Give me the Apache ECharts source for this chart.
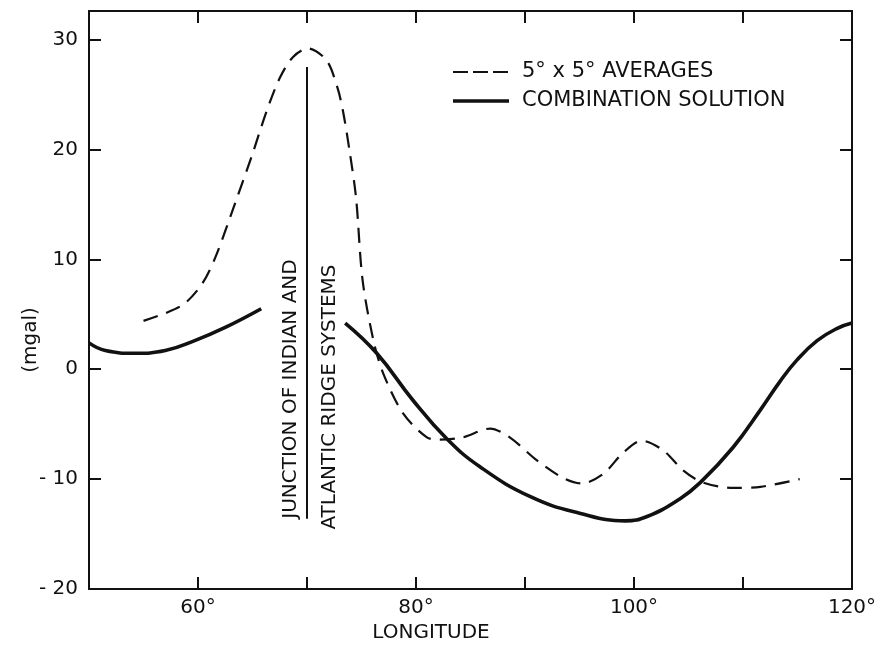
<!DOCTYPE html>
<html>
<head>
<meta charset="utf-8">
<script src="https://cdn.jsdelivr.net/npm/echarts@6/dist/echarts.min.js"></script>
<style>html,body{margin:0;padding:0;background:#fff;}#c{width:882px;height:650px;}</style>
</head>
<body>
<div id="c"></div>
<script>
// Data (longitude in degrees, anomaly in mgal)
const averages5x5 = [
  [55.0,4.4],[57.0,5.1],[58.8,6.0],[60.4,7.8],[61.6,10.2],[63.4,15.1],[65.0,19.6],
  [66.3,23.5],[67.5,26.5],[68.7,28.4],[70.1,29.2],[71.8,28.1],[72.8,25.6],[73.3,23.5],
  [73.9,19.9],[74.5,15.6],[75.1,8.1],[76.1,2.6],[77.0,-0.4],[78.8,-4.0],[81.0,-6.2],
  [82.2,-6.4],[84.3,-6.2],[86.8,-5.4],[88.6,-6.2],[91.1,-8.3],[93.5,-9.9],[95.2,-10.4],
  [97.2,-9.5],[99.0,-7.6],[100.7,-6.5],[102.7,-7.4],[104.5,-9.2],[106.3,-10.3],
  [109.1,-10.8],[111.6,-10.7],[115.2,-10.0]
];
const combinationWest = [
  [50,2.4],[51.5,1.7],[54.2,1.45],[57.0,1.7],[59.7,2.6],[62.5,3.8],[65.8,5.5]
];
const combinationEast = [
  [73.5,4.2],[76.4,1.45],[79.7,-2.8],[82.8,-6.3],[85.9,-8.9],[90.5,-11.6],[95.0,-13.1],
  [99.2,-13.8],[101.2,-13.4],[104.2,-11.8],[106.1,-10.3],[109.1,-7.1],[111.6,-3.7],
  [113.4,-1.1],[115.0,0.9],[116.8,2.6],[118.6,3.7],[120,4.2]
];
const junctionLine = [[70,27.5],[70,-13.6]];
const xLabelTicks = [60,80,100,120];
const yTicks = [-20,-10,0,10,20,30];

const FONT = 'DejaVu Sans';
const chart = echarts.init(document.getElementById('c'), null, {renderer:'canvas'});

const axisLineStyle = {color:'#111', width:2};
const tickStyle = {show:true, inside:true, length:12, lineStyle:{color:'#111', width:2}};
const option = {
  backgroundColor:'#fff',
  animation:false,
  grid:{left:89, right:30, top:11, bottom:61},
  xAxis:[{
    type:'value', min:50, max:120, interval:10, position:'bottom',
    axisLine:{show:true, onZero:false, lineStyle:axisLineStyle},
    axisTick:tickStyle,
    axisLabel:{margin:9, color:'#111', fontFamily:FONT, fontSize:20,
      formatter:v => xLabelTicks.indexOf(v) >= 0 ? v + '°' : ''},
    splitLine:{show:false}
  },{
    type:'value', min:50, max:120, interval:10, position:'top',
    axisLine:{show:true, onZero:false, lineStyle:axisLineStyle},
    axisTick:tickStyle,
    axisLabel:{show:false}, splitLine:{show:false}
  }],
  yAxis:[{
    type:'value', min:-20, max:32.6, interval:10, position:'left',
    axisLine:{show:true, onZero:false, lineStyle:axisLineStyle},
    axisTick:tickStyle,
    axisLabel:{margin:11, color:'#111', fontFamily:FONT, fontSize:20, showMaxLabel:false,
      formatter:v => yTicks.indexOf(v) >= 0 ? (v < 0 ? '- ' + Math.abs(v) : String(v)) : ''},
    splitLine:{show:false}
  },{
    type:'value', min:-20, max:32.6, interval:10, position:'right',
    axisLine:{show:true, onZero:false, lineStyle:axisLineStyle},
    axisTick:tickStyle,
    axisLabel:{show:false}, splitLine:{show:false}
  }],
  series:[
    {
      name:'5° x 5° AVERAGES', type:'line', data:averages5x5, smooth:0.3,
      showSymbol:false, lineStyle:{color:'#111', width:2.2, type:[15,9]},
      markLine:{
        silent:true, symbol:['none','none'],
        lineStyle:{color:'#111', width:2, type:'solid'}, label:{show:false},
        data:[[{coord:junctionLine[0]},{coord:junctionLine[1]}]]
      }
    },
    {
      name:'COMBINATION SOLUTION', type:'line', data:combinationWest, smooth:0.45,
      showSymbol:false, lineStyle:{color:'#111', width:3.6}
    },
    {
      name:'COMBINATION SOLUTION', type:'line', data:combinationEast, smooth:0.45,
      showSymbol:false, lineStyle:{color:'#111', width:3.6}
    }
  ],
  graphic:[
    {type:'line', shape:{x1:453, y1:72, x2:509, y2:72}, style:{stroke:'#111', lineWidth:2.2, lineDash:[15,5]}},
    {type:'text', x:522, y:72, style:{text:'5° x 5° AVERAGES', font:'21px "'+FONT+'"', fill:'#111', textVerticalAlign:'middle', textAlign:'left'}},
    {type:'line', shape:{x1:453, y1:101, x2:509, y2:101}, style:{stroke:'#111', lineWidth:3.4}},
    {type:'text', x:522, y:101, style:{text:'COMBINATION SOLUTION', font:'21px "'+FONT+'"', fill:'#111', textVerticalAlign:'middle', textAlign:'left'}},
    {type:'text', x:291, y:389, rotation:Math.PI/2, style:{text:'JUNCTION OF INDIAN AND', font:'20px "'+FONT+'"', fill:'#111', textAlign:'center', textVerticalAlign:'middle'}},
    {type:'text', x:330, y:397, rotation:Math.PI/2, style:{text:'ATLANTIC RIDGE SYSTEMS', font:'20px "'+FONT+'"', fill:'#111', textAlign:'center', textVerticalAlign:'middle'}},
    {type:'text', x:31, y:340, rotation:Math.PI/2, style:{text:'(mgal)', font:'20px "'+FONT+'"', fill:'#111', textAlign:'center', textVerticalAlign:'middle'}},
    {type:'text', x:431, y:633, style:{text:'LONGITUDE', font:'20px "'+FONT+'"', fill:'#111', textAlign:'center', textVerticalAlign:'middle'}}
  ]
};
chart.setOption(option);
</script>
</body>
</html>
